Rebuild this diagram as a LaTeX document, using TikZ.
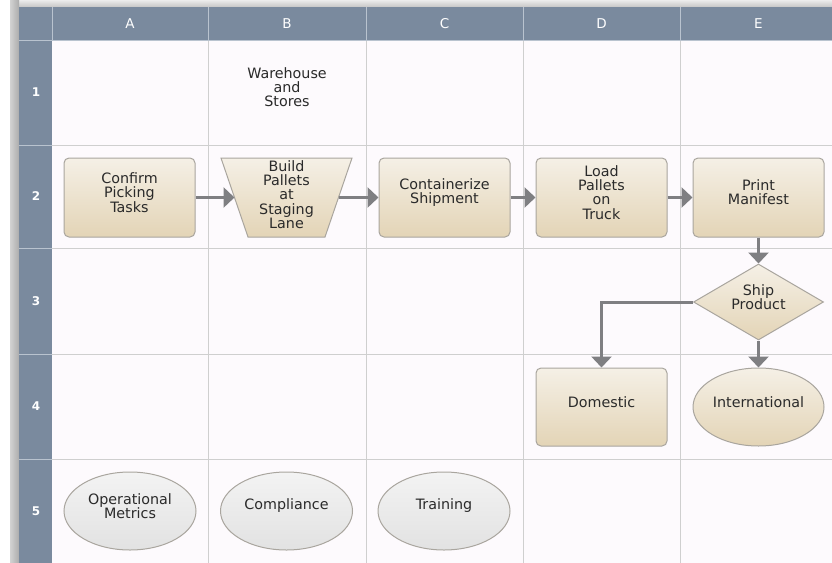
\documentclass[tikz,border=0pt]{standalone}
\usepackage{fontspec}
\setmainfont{DejaVu Sans}
\usetikzlibrary{shapes.geometric,arrows.meta}
\definecolor{hdr}{HTML}{7A8A9E}
\definecolor{hdrline}{HTML}{B9C3CF}
\definecolor{cellbg}{HTML}{FDFAFD}
\definecolor{gridc}{HTML}{CFCFCF}
\definecolor{creamT}{HTML}{F5F0E6}
\definecolor{creamB}{HTML}{E3D4B6}
\definecolor{grayT}{HTML}{F3F3F3}
\definecolor{grayB}{HTML}{E2E2E2}
\definecolor{bordc}{HTML}{A9A59E}
\definecolor{arrc}{HTML}{7F7F82}
\definecolor{txtc}{HTML}{2A2A2A}
\tikzset{
  txt/.style={font=\fontsize{14.3}{14.3}\selectfont, text=txtc, align=center, inner sep=0pt},
  hdrtxt/.style={font=\fontsize{13.5}{13.5}\selectfont, text=white, inner sep=0pt},
  rowtxt/.style={font=\bfseries\fontsize{12}{12}\selectfont, text=white, inner sep=0pt},
  shp/.style={draw=bordc, line width=1pt, top color=creamT, bottom color=creamB},
  box/.style={shp, rounded corners=5pt, minimum width=131pt, minimum height=79pt, inner sep=0pt},
  dia/.style={shp, diamond, aspect=1.7, minimum width=130pt, minimum height=76pt, inner sep=0pt},
  cov/.style={shp, ellipse, minimum width=131pt, minimum height=78pt, inner sep=0pt},
  gov/.style={ellipse, draw=bordc, line width=1pt, top color=grayT, bottom color=grayB,
    minimum width=132pt, minimum height=78pt, inner sep=0pt},
  lbl/.style={label={[txt,yshift=5pt]center:{#1}}},
  arr/.style={draw=arrc, line width=3pt, -{Triangle[length=11pt,width=20pt]}}
}
\begin{document}
\begin{tikzpicture}[x=1pt,y=-1pt]
\useasboundingbox (0,0) rectangle (832,562);
% frame
\fill[white] (0,0) rectangle (832,562);
\shade[top color=gray!15, bottom color=gray!45] (10,0) rectangle (836,7);
\shade[left color=gray!35, right color=gray!65] (10,0) rectangle (19,563);
% cells
\fill[cellbg] (52,40) rectangle (836,563);
\foreach \x in {208,366,523,680} \draw[gridc, line width=1pt] (\x,40) -- (\x,563);
\foreach \y in {145,248,354,459} \draw[gridc, line width=1pt] (52,\y) -- (836,\y);
% headers
\fill[hdr] (19,7) rectangle (836,40);
\fill[hdr] (19,40) rectangle (52,563);
\foreach \x in {52,208,366,523,680} \draw[hdrline, line width=1pt] (\x,7) -- (\x,40);
\draw[hdrline, line width=1pt] (19,40) -- (836,40);
\foreach \y in {145,248,354,459} \draw[hdrline, line width=1pt] (19,\y) -- (52,\y);
\node[hdrtxt] (hA) at (130,24) {A};
\node[hdrtxt] (hB) at (287,24) {B};
\node[hdrtxt] (hC) at (444.5,24) {C};
\node[hdrtxt] (hD) at (601.5,24) {D};
\node[hdrtxt] (hE) at (758.5,24) {E};
\node[rowtxt] (r1) at (36,92.5) {1};
\node[rowtxt] (r2) at (36,196.5) {2};
\node[rowtxt] (r3) at (36,301) {3};
\node[rowtxt] (r4) at (36,406.5) {4};
\node[rowtxt] (r5) at (36,511) {5};
% lane title
\node[txt] (ws) at (287,87) {Warehouse\\and\\Stores};
% process
\node[box, lbl={Confirm\\Picking\\Tasks}] (a) at (129.5,197.5) {};
\path[shp] (221,158) -- (352,158) -- (325,237) -- (248,237) -- cycle;
\node[txt] (b) at (286.5,194.5) {Build\\Pallets\\at\\Staging\\Lane};
\coordinate (bl) at (234.5,197.5);
\coordinate (br) at (338.5,197.5);
\node[box, lbl={Containerize\\Shipment}] (c) at (444.5,197.5) {};
\node[box, lbl={Load\\Pallets\\on\\Truck}] (d) at (601.5,197.5) {};
\node[box, lbl={Print\\Manifest}] (e) at (758.5,197.5) {};
\node[dia, lbl={Ship\\Product}] (f) at (758.5,302) {};
\node[box, minimum height=78pt, lbl={Domestic}] (g) at (601.5,407) {};
\node[cov, lbl={International}] (h) at (758.5,407) {};
\node[gov, lbl={Operational\\Metrics}] (m) at (130,511) {};
\node[gov, lbl={Compliance}] (k) at (286.5,511) {};
\node[gov, lbl={Training}] (t) at (444,511) {};
% connectors
\draw[arr] (a) -- (bl);
\draw[arr] (br) -- (c);
\draw[arr] (c) -- (d);
\draw[arr] (d) -- (e);
\draw[arr] (e) -- (f);
\draw[arr] (f.west) -| (g.north);
\draw[arr] (f) -- (h);
\end{tikzpicture}
\end{document}
